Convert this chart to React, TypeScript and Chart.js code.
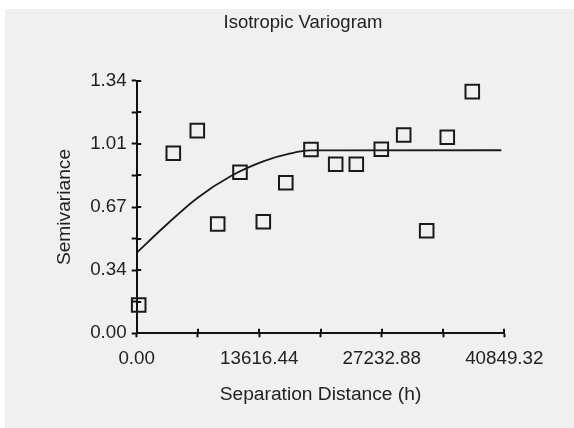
import React, { useEffect, useRef } from 'react';
import { Chart, registerables } from 'chart.js';

Chart.register(...registerables);

const titleText = 'Isotropic Variogram';
const xAxisTitle = 'Separation Distance (h)';
const yAxisTitle = 'Semivariance';

const lagDistance = [222, 4067, 6734, 9000, 11479, 14068, 16568, 19368, 22113, 24402, 27180, 29669, 32225, 34514, 37292];
const semivariance = [0.150, 0.955, 1.075, 0.580, 0.854, 0.592, 0.799, 0.975, 0.897, 0.897, 0.976, 1.052, 0.544, 1.040, 1.282];

const modelDistance = [0, 3030, 6740, 10430, 14130, 17090, 19310, 40520];
const modelValue = [0.427, 0.564, 0.718, 0.833, 0.913, 0.954, 0.970, 0.971];

const xTickValues = [0, 6808.22, 13616.44, 20424.66, 27232.88, 34041.1, 40849.32];
const xTickLabels = ['0.00', '', '13616.44', '', '27232.88', '', '40849.32'];
const yTickValues = [0, 0.1675, 0.335, 0.5025, 0.67, 0.8375, 1.005, 1.1725, 1.34];
const yTickLabels = ['0.00', '', '0.34', '', '0.67', '', '1.01', '', '1.34'];

const FONT = "'Liberation Sans', Arial, sans-serif";
const TEXT = '#222222';
const INK = '#111111';

const bgPlugin = {
  id: 'bgPlugin',
  beforeDraw(chart: any) {
    const ctx = chart.ctx;
    ctx.save();
    ctx.fillStyle = '#ffffff';
    ctx.fillRect(0, 0, chart.width, chart.height);
    ctx.fillStyle = '#f0f0f0';
    ctx.fillRect(5, 9, chart.width - 5, chart.height - 9);
    ctx.restore();
  },
};

const innerTicks = {
  id: 'innerTicks',
  beforeDatasetsDraw(chart: any) {
    const { ctx, chartArea } = chart;
    const x = chart.scales.x;
    const y = chart.scales.y;
    ctx.save();
    ctx.strokeStyle = INK;
    ctx.lineWidth = 2;
    ctx.beginPath();
    xTickValues.forEach((v) => {
      const px = Math.round(x.getPixelForValue(v));
      ctx.moveTo(px, chartArea.bottom);
      ctx.lineTo(px, chartArea.bottom - 4.5);
    });
    yTickValues.forEach((v) => {
      const py = Math.round(y.getPixelForValue(v));
      ctx.moveTo(chartArea.left, py);
      ctx.lineTo(chartArea.left + 4.5, py);
    });
    ctx.stroke();
    ctx.restore();
  },
};

export default function App() {
  const ref = useRef<HTMLCanvasElement>(null);

  useEffect(() => {
    document.body.style.margin = '0';
    const canvas = ref.current!;
    const chart = new Chart(canvas, {
      type: 'scatter',
      data: {
        datasets: [
          {
            label: 'Experimental',
            data: lagDistance.map((d, i) => ({ x: d, y: semivariance[i] })),
            pointStyle: 'rect',
            pointRadius: 9.6,
            pointBorderWidth: 2,
            borderColor: '#1a1a1a',
            backgroundColor: 'rgba(0,0,0,0)',
            showLine: false,
            clip: false as any,
          },
          {
            label: 'Model',
            data: modelDistance.map((d, i) => ({ x: d, y: modelValue[i] })),
            showLine: true,
            pointRadius: 0,
            borderColor: '#1a1a1a',
            borderWidth: 1.8,
            cubicInterpolationMode: 'monotone',
            fill: false,
            clip: false as any,
          },
        ],
      },
      options: {
        responsive: false,
        animation: false,
        events: [],
        layout: { padding: { left: 32, right: 0, top: 0, bottom: 0 } },
        plugins: {
          legend: { display: false },
          tooltip: { enabled: false },
          title: {
            display: true,
            text: titleText,
            color: TEXT,
            font: { family: FONT, size: 18.5, weight: 'normal' },
            padding: { top: 11.4, bottom: 47.1 },
          },
        },
        scales: {
          x: {
            type: 'linear',
            position: 'bottom',
            min: 0,
            max: 40849.32,
            afterBuildTicks: (scale: any) => {
              scale.ticks = xTickValues.map((v) => ({ value: v }));
            },
            afterFit: (scale: any) => {
              scale.height = 94.7;
            },
            ticks: {
              autoSkip: false,
              maxRotation: 0,
              color: TEXT,
              padding: 10,
              font: { family: FONT, size: 18.8 },
              callback: (_v: any, i: number) => xTickLabels[i],
            },
            grid: {
              display: true,
              drawOnChartArea: false,
              drawTicks: true,
              tickLength: 4,
              tickWidth: 2,
              tickColor: INK,
            },
            border: { display: true, color: INK, width: 2 },
            title: {
              display: true,
              text: xAxisTitle,
              color: TEXT,
              font: { family: FONT, size: 19.2 },
              padding: { top: 0, bottom: 21.6 },
            },
          },
          y: {
            type: 'linear',
            position: 'left',
            min: 0,
            max: 1.34,
            afterBuildTicks: (scale: any) => {
              scale.ticks = yTickValues.map((v) => ({ value: v }));
            },
            afterFit: (scale: any) => {
              scale.width = 104.7;
            },
            ticks: {
              autoSkip: false,
              color: TEXT,
              padding: 5,
              font: { family: FONT, size: 18.8 },
              callback: (_v: any, i: number) => yTickLabels[i],
            },
            grid: {
              display: true,
              drawOnChartArea: false,
              drawTicks: true,
              tickLength: 5,
              tickWidth: 2,
              tickColor: INK,
            },
            border: { display: true, color: INK, width: 2 },
            title: {
              display: true,
              text: yAxisTitle,
              color: TEXT,
              font: { family: FONT, size: 19.2 },
              padding: { top: 21.0, bottom: 0 },
            },
          },
          y2: {
            type: 'linear',
            position: 'right',
            min: 0,
            max: 1,
            display: true,
            afterFit: (scale: any) => {
              scale.width = 69.7;
            },
            ticks: { display: false },
            grid: { display: false },
            border: { display: false },
          },
        },
      } as any,
      plugins: [bgPlugin, innerTicks],
    });
    return () => chart.destroy();
  }, []);

  return (
    <div style={{ width: 574, height: 428 }}>
      <canvas ref={ref} width={574} height={428} style={{ display: 'block' }} />
    </div>
  );
}
